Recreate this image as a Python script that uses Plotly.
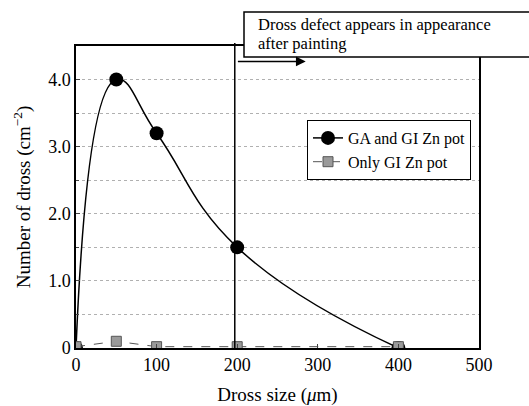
import plotly.graph_objects as go

# Data
size_um = [0, 50, 100, 200, 400]
ga_gi = [0.0, 4.0, 3.2, 1.5, 0.0]
only_gi = [0.02, 0.1, 0.02, 0.02, 0.02]
x_ticks = [0, 100, 200, 300, 400, 500]
y_tickvals = [0, 1.0, 2.0, 3.0, 4.0]
y_ticktext = ["0", "1.0", "2.0", "3.0", "4.0"]
limit_size = 197
note_lines = ["Dross defect appears in appearance", "after painting"]

FONT = "Liberation Serif"

fig = go.Figure()
fig.add_trace(go.Scatter(
    x=size_um, y=ga_gi, name="GA and GI Zn pot",
    mode="lines+markers",
    line=dict(color="black", width=1.5, shape="spline", smoothing=1.3),
    marker=dict(symbol="circle", size=14, color="black"),
))
fig.add_trace(go.Scatter(
    x=size_um, y=only_gi, name="Only GI Zn pot",
    mode="lines+markers",
    line=dict(color="#555555", width=1, dash="dash"),
    marker=dict(symbol="square", size=10, color="#9a9a9a",
                line=dict(color="#555555", width=1)),
))

# vertical limit line
fig.add_shape(type="line", xref="x", yref="paper", x0=limit_size, x1=limit_size,
              y0=0, y1=1.01, line=dict(color="black", width=1.5))
# text box
fig.add_shape(type="rect", xref="paper", yref="paper",
              x0=(244 - 76) / 403, x1=1.3, y0=(348 - 57) / 302, y1=(348 - 12) / 302,
              line=dict(color="black", width=1.5), fillcolor="white")
for i, line_text in enumerate(note_lines):
    fig.add_annotation(xref="paper", yref="paper", x=(256 - 76) / 403,
                       y=(348 - (25 + 19 * i)) / 302,
                       xanchor="left", yanchor="middle", align="left", showarrow=False,
                       text=line_text,
                       font=dict(family=FONT, size=16.5, color="black"))
# arrow
fig.add_annotation(x=285, y=4.27, ax=limit_size + 2, ay=4.27, xref="x", yref="y",
                   axref="x", ayref="y", showarrow=True, arrowhead=2, arrowsize=1.3,
                   arrowwidth=1.5, arrowcolor="black", text="")

fig.update_layout(
    width=529, height=406,
    margin=dict(l=76, r=50, t=46, b=58),
    paper_bgcolor="white", plot_bgcolor="white",
    font=dict(family=FONT, size=18, color="black"),
    showlegend=True,
    legend=dict(x=(307 - 76) / 403, y=(348 - 120) / 302, xanchor="left", yanchor="top",
                bgcolor="white", bordercolor="black", borderwidth=1,
                font=dict(family=FONT, size=16), tracegroupgap=0, itemwidth=30),
    xaxis=dict(range=[0, 500], tickvals=x_ticks, showline=True, linecolor="black",
               linewidth=1.5, mirror=True, ticks="inside", ticklen=4, showgrid=False,
               zeroline=False, automargin=False,
               title=dict(text="Dross size (<i>μ</i>m)", standoff=18,
                          font=dict(family=FONT, size=19))),
    yaxis=dict(range=[0, 4.5], tickvals=y_tickvals, ticktext=y_ticktext, showline=True,
               linecolor="black", linewidth=1.5, mirror=True, ticks="inside", ticklen=4,
               showgrid=True, gridcolor="#b0b0b0", griddash="dot", gridwidth=1,
               zeroline=False, automargin=False,
               minor=dict(dtick=0.5, tick0=0, showgrid=True, gridcolor="#b0b0b0",
                          griddash="dot", gridwidth=1, ticks="inside", ticklen=3),
               title=dict(text="Number of dross (cm<sup>−2</sup>)", standoff=13,
                          font=dict(family=FONT, size=19))),
)

fig.write_html("out.html")
